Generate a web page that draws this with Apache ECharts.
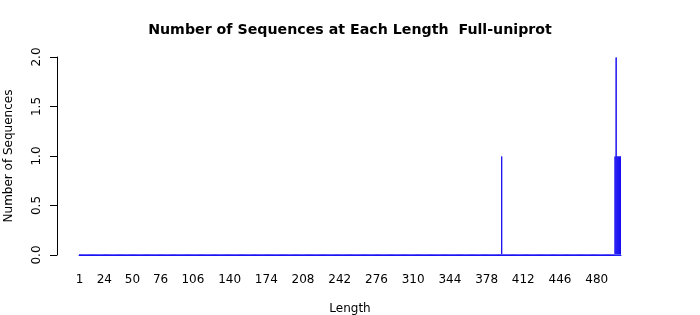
<!DOCTYPE html>
<html>
<head>
<meta charset="utf-8">
<script src="https://cdn.jsdelivr.net/npm/echarts@6/dist/echarts.min.js"></script>
<style>html,body{margin:0;padding:0;background:#fff}#c{width:700px;height:315px}</style>
</head>
<body>
<div id="c"></div>
<script>
const maxLength = 502;
const barLengths = [392, 497, 498, 499, 500, 501, 502];
const barCounts = [1, 1, 2, 1, 1, 1, 1];
const tickLabels = [1, 24, 50, 76, 106, 140, 174, 208, 242, 276, 310, 344, 378, 412, 446, 480];
const yTicks = [0, 0.5, 1, 1.5, 2];

const categories = [];
const values = [];
for (let i = 1; i <= maxLength; i++) {
  categories.push(String(i));
  const k = barLengths.indexOf(i);
  values.push(k >= 0 ? barCounts[k] : 0);
}
const tickSet = new Set(tickLabels.map(String));

const chart = echarts.init(document.getElementById('c'), null, {renderer: 'canvas'});
const font = 'DejaVu Sans';
chart.setOption({
  animation: false,
  title: {
    text: 'Number of Sequences at Each Length  Full-uniprot',
    left: 'center', top: 18,
    textStyle: {fontFamily: font, fontWeight: 'bold', fontSize: 14.2, color: '#000'}
  },
  grid: {left: 79, right: 79, top: 57, bottom: 60, containLabel: false, outerBoundsMode: 'none'},
  xAxis: {
    type: 'category',
    data: categories,
    name: 'Length',
    nameLocation: 'middle',
    nameGap: 48,
    nameTextStyle: {fontFamily: font, fontSize: 12, color: '#000'},
    axisLine: {show: true, lineStyle: {color: '#2020ff', width: 1}},
    axisTick: {show: false},
    axisLabel: {
      interval: (idx, val) => tickSet.has(val),
      margin: 19,
      fontFamily: font, fontSize: 12, color: '#000'
    },
    splitLine: {show: false}
  },
  yAxis: {
    type: 'value',
    min: yTicks[0], max: yTicks[yTicks.length - 1], interval: 0.5,
    offset: 22,
    name: 'Number of Sequences',
    nameLocation: 'middle',
    nameGap: 42,
    nameTextStyle: {fontFamily: font, fontSize: 12, color: '#000'},
    axisLine: {show: true, lineStyle: {color: '#000', width: 1}},
    axisTick: {show: true, length: 7, lineStyle: {color: '#000'}},
    axisLabel: {
      rotate: 90, margin: 14,
      formatter: v => v.toFixed(1),
      fontFamily: font, fontSize: 12, color: '#000'
    },
    splitLine: {show: false}
  },
  series: [{
    type: 'bar',
    data: values,
    barCategoryGap: '0%',
    itemStyle: {color: '#1a10f0', borderColor: '#1a10f0', borderWidth: 1}
  }]
});
</script>
</body>
</html>
